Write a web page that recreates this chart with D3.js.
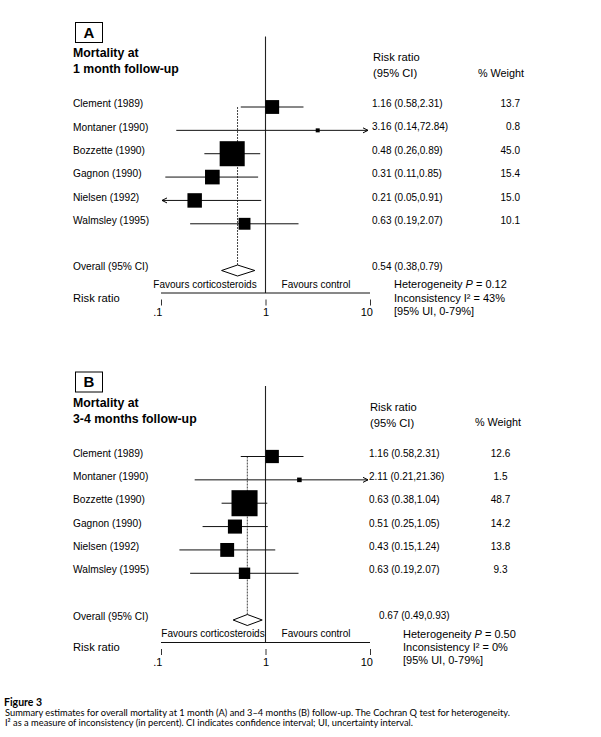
<!DOCTYPE html>
<html>
<head>
<meta charset="utf-8">
<script src="https://cdn.jsdelivr.net/npm/d3@7/dist/d3.min.js"></script>
<style>
  html, body { margin: 0; padding: 0; background: #fff; }
  svg { display: block; font-family: "Liberation Sans", Arial, sans-serif; }
</style>
</head>
<body>
<svg id="chart" width="601" height="737"></svg>
<script>
// Forest plots, two panels (A: 1 month, B: 3-4 months).
// Values; CI text is the printed text.

const studies = ['Clement (1989)', 'Montaner (1990)', 'Bozzette (1990)',
    'Gagnon (1990)', 'Nielsen (1992)', 'Walmsley (1995)'];

const rrA = [1.16, 3.16, 0.48, 0.31, 0.21, 0.63];
const loA = [0.58, 0.14, 0.26, 0.11, 0.05, 0.19];
const hiA = [2.31, 72.84, 0.89, 0.85, 0.91, 2.07];
const weightA = ['13.7', '0.8', '45.0', '15.4', '15.0', '10.1'];
const overallA = [0.54, 0.38, 0.79];
const hetA = ['0.12', '43%', '0-79%'];

const rrB = [1.16, 2.11, 0.63, 0.51, 0.43, 0.63];
const loB = [0.58, 0.21, 0.38, 0.25, 0.15, 0.19];
const hiB = [2.31, 21.36, 1.04, 1.05, 1.24, 2.07];
const weightB = ['12.6', '1.5', '48.7', '14.2', '13.8', '9.3'];
const overallB = [0.67, 0.49, 0.93];
const hetB = ['0.50', '0%', '0-79%'];

const tickValues = [0.1, 1, 10];
const tickLabels = ['.1', '1', '10'];

const svg = d3.select('#chart');

// x and row scales are shared by both panels (same log axis)
const x = d3.scaleLog().domain([0.1, 10]).range([161, 370]);
const y = d3.scaleLinear().domain([0, 7]).range([107, 270.5]);
const side = d3.scaleSqrt().domain([0, 50]).range([0, 26.4]);

const fmt = (v) => v.toFixed(2);

function panel(opt) {
    const g = svg.append('g').attr('transform', `translate(0,${opt.dy})`);
    const rows = studies.map((name, i) => ({
        name, rr: opt.rr[i], lo: opt.lo[i], hi: opt.hi[i], w: opt.weight[i],
    }));

    // letter box + title
    g.append('rect')
        .attr('x', 75.5).attr('y', 22.5).attr('width', 27).attr('height', 20)
        .attr('fill', 'none').attr('stroke', '#000').attr('stroke-width', 1);
    g.append('text')
        .attr('x', 89).attr('y', 32.5).attr('dy', '0.36em')
        .attr('text-anchor', 'middle').attr('font-weight', 'bold').attr('font-size', 15)
        .text(opt.letter);
    opt.title.forEach((t, i) => {
        g.append('text')
            .attr('x', 73).attr('y', 53 + i * 16).attr('dy', '0.36em')
            .attr('font-weight', 'bold').attr('font-size', 12.3)
            .text(t);
    });

    // right-hand headers
    g.append('text').attr('x', opt.ciX + 1).attr('y', 57).attr('dy', '0.36em')
        .attr('font-size', 11.2).text('Risk ratio');
    g.append('text').attr('x', opt.ciX + 1).attr('y', 73).attr('dy', '0.36em')
        .attr('font-size', 11.2).text('(95% CI)');
    g.append('text').attr('x', opt.wHeadX).attr('y', 73).attr('dy', '0.36em')
        .attr('font-size', 10.8).text('% Weight');

    // line of no effect
    g.append('line')
        .attr('x1', x(1)).attr('x2', x(1)).attr('y1', 36.5).attr('y2', 293)
        .attr('stroke', '#222').attr('stroke-width', 1.1);

    // overall estimate, dotted
    g.append('line')
        .attr('x1', x(opt.overall[0])).attr('x2', x(opt.overall[0]))
        .attr('y1', y(0)).attr('y2', y(7) + 5.5)
        .attr('stroke', '#444').attr('stroke-width', 1)
        .attr('stroke-dasharray', '2,1');

    // CI lines
    const ci = g.append('g').attr('class', 'ci-lines');
    ci.selectAll('line').data(rows).enter().append('line')
        .attr('x1', (d) => d.lo < 0.1 ? x(0.1) + 1 : x(d.lo))
        .attr('x2', (d) => d.hi > 10 ? x(10) - 2 : x(d.hi))
        .attr('y1', (d, i) => y(i)).attr('y2', (d, i) => y(i))
        .attr('stroke', '#111').attr('stroke-width', 1);

    // arrows for clipped intervals
    rows.forEach((d, i) => {
        const yy = y(i);
        if (d.hi > 10) {
            const tip = x(10) - 2;
            g.append('path')
                .attr('d', `M${tip - 5},${yy - 2.5}L${tip},${yy}L${tip - 5},${yy + 2.5}`)
                .attr('fill', 'none').attr('stroke', '#000').attr('stroke-width', 1);
        }
        if (d.lo < 0.1) {
            const tip = x(0.1) + 1;
            g.append('path')
                .attr('d', `M${tip + 5},${yy - 2.5}L${tip},${yy}L${tip + 5},${yy + 2.5}`)
                .attr('fill', 'none').attr('stroke', '#000').attr('stroke-width', 1);
        }
    });

    // weight boxes
    g.append('g').selectAll('rect').data(rows).enter().append('rect')
        .attr('x', (d) => x(d.rr) - Math.max(4, side(+d.w)) / 2)
        .attr('y', (d, i) => y(i) - Math.max(4, side(+d.w)) / 2)
        .attr('width', (d) => Math.max(4, side(+d.w)))
        .attr('height', (d) => Math.max(4, side(+d.w)))
        .attr('fill', '#000');

    // overall diamond
    const [orr, olo, ohi] = opt.overall;
    const yd = y(7);
    g.append('path')
        .attr('d', `M${x(olo)},${yd}L${x(orr)},${yd - 5.5}L${x(ohi)},${yd}L${x(orr)},${yd + 5.5}Z`)
        .attr('fill', '#fff').attr('stroke', '#000').attr('stroke-width', 1);

    // study labels + CI / weight text
    const txt = g.append('g').attr('font-size', 10.2);
    txt.selectAll('text.name').data(rows).enter().append('text')
        .attr('class', 'name')
        .attr('x', 73).attr('y', (d, i) => y(i) - 3.5).attr('dy', '0.36em')
        .text((d) => d.name);
    txt.selectAll('text.ci').data(rows).enter().append('text')
        .attr('class', 'ci')
        .attr('x', opt.ciX).attr('y', (d, i) => y(i) - 3.5).attr('dy', '0.36em')
        .attr('font-size', 10)
        .text((d) => `${fmt(d.rr)} (${fmt(d.lo)},${fmt(d.hi)})`);
    txt.selectAll('text.w').data(rows).enter().append('text')
        .attr('class', 'w')
        .attr('x', opt.wX).attr('y', (d, i) => y(i) - 3.5).attr('dy', '0.36em')
        .attr('text-anchor', opt.wAnchor).attr('font-size', 10)
        .text((d) => d.w);
    txt.append('text')
        .attr('x', 73).attr('y', y(7) - 4).attr('dy', '0.36em')
        .text('Overall (95% CI)');
    txt.append('text')
        .attr('x', opt.overallX).attr('y', y(7) - 4.5).attr('dy', '0.36em')
        .attr('font-size', 10)
        .text(`${fmt(orr)} (${fmt(olo)},${fmt(ohi)})`);

    // favours labels
    g.append('text').attr('x', opt.favLeftX).attr('y', 284.3).attr('dy', '0.36em')
        .attr('text-anchor', 'middle').attr('font-size', 10).text('Favours corticosteroids');
    g.append('text').attr('x', 316).attr('y', 284.3).attr('dy', '0.36em')
        .attr('text-anchor', 'middle').attr('font-size', 10).text('Favours control');

    // axis
    g.append('line')
        .attr('x1', x(0.1)).attr('x2', x(10)).attr('y1', 293).attr('y2', 293)
        .attr('stroke', '#111').attr('stroke-width', 1);
    g.append('text').attr('x', 73).attr('y', 297.7).attr('dy', '0.36em')
        .attr('font-size', 11.2).text('Risk ratio');

    const axis = d3.axisBottom(x)
        .tickValues(tickValues)
        .tickFormat((d, i) => tickLabels[i])
        .tickSize(6).tickSizeOuter(0).tickPadding(3);
    const ax = g.append('g').attr('transform', 'translate(0,299.5)').call(axis);
    ax.select('.domain').remove();
    ax.selectAll('.tick line').attr('stroke', '#333');
    ax.selectAll('.tick text')
        .attr('font-family', '"Liberation Sans", Arial, sans-serif')
        .attr('font-size', 11).attr('fill', '#000')
        .attr('text-anchor', (d, i) => i === 1 ? 'middle' : 'end')
        .attr('dx', (d, i) => i === 0 ? 1 : i === 2 ? 2.5 : 0);

    // heterogeneity block
    const het = g.append('g').attr('font-size', 11);
    const h1 = het.append('text').attr('x', opt.hetX).attr('y', 284.3).attr('dy', '0.36em');
    h1.append('tspan').text('Heterogeneity ');
    h1.append('tspan').attr('font-style', 'italic').text('P');
    h1.append('tspan').text(' = ' + opt.het[0]);
    het.append('text').attr('x', opt.hetX).attr('y', 297.7).attr('dy', '0.36em')
        .text('Inconsistency I\u00B2 = ' + opt.het[1]);
    het.append('text').attr('x', opt.hetX).attr('y', 311).attr('dy', '0.36em')
        .text('[95% UI, ' + opt.het[2] + ']');
}

panel({
    dy: 0, letter: 'A', title: ['Mortality at', '1 month follow-up'],
    rr: rrA, lo: loA, hi: hiA, weight: weightA, overall: overallA, het: hetA,
    ciX: 372, overallX: 372, wX: 520, wAnchor: 'end', wHeadX: 478,
    hetX: 394, favLeftX: 205,
});

panel({
    dy: 349.5, letter: 'B', title: ['Mortality at', '3-4 months follow-up'],
    rr: rrB, lo: loB, hi: hiB, weight: weightB, overall: overallB, het: hetB,
    ciX: 369, overallX: 379, wX: 500.5, wAnchor: 'middle', wHeadX: 475,
    hetX: 403, favLeftX: 213,
});

// figure caption
const cap = svg.append('g').attr('font-family', 'Lato, "Open Sans", sans-serif');
cap.append('text').attr('x', 4).attr('y', 702.5).attr('dy', '0.36em')
    .attr('font-weight', 'bold').attr('font-size', 10.5).text('Figure 3');
cap.append('text').attr('x', 5).attr('y', 713).attr('dy', '0.36em')
    .attr('font-size', 9.2).attr('textLength', 505).attr('lengthAdjust', 'spacingAndGlyphs')
    .text('Summary estimates for overall mortality at 1 month (A) and 3\u20134 months (B) follow-up. The Cochran Q test for heterogeneity.');
cap.append('text').attr('x', 5).attr('y', 723).attr('dy', '0.36em')
    .attr('font-size', 9.2).attr('textLength', 408).attr('lengthAdjust', 'spacingAndGlyphs')
    .text('I\u00B2 as a measure of inconsistency (in percent). CI indicates confidence interval; UI, uncertainty interval.');
</script>
</body>
</html>
